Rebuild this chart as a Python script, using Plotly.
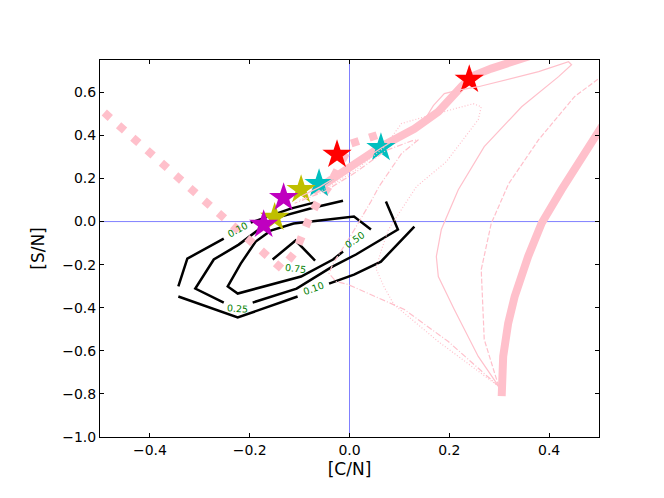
import plotly.graph_objects as go

# ---- data ----
x_ticks = [-0.4, -0.2, 0.0, 0.2, 0.4]
x_ticktext = ["\u22120.4", "\u22120.2", "0.0", "0.2", "0.4"]
y_ticks = [-1.0, -0.8, -0.6, -0.4, -0.2, 0.0, 0.2, 0.4, 0.6]
y_ticktext = ["\u22121.0", "\u22120.8", "\u22120.6", "\u22120.4", "\u22120.2", "0.0", "0.2", "0.4", "0.6"]

# solar reference lines
ref_h = [(-0.5, 0.0), (0.5, 0.0)]
ref_v = [(0.0, -1.0), (0.0, 0.75)]

# contour pieces (broken where matplotlib put the inline labels)
c010_a = [(-0.198, -0.005), (-0.118, 0.060), (-0.071, 0.088)]
c010_b = [(-0.252, -0.079), (-0.325, -0.172), (-0.343, -0.301)]
c010_c = [(-0.343, -0.348), (-0.224, -0.445), (-0.104, -0.348)]
c010_d = [(-0.041, -0.288), (0.009, -0.246), (0.063, -0.186), (0.130, -0.023)]
c025_a = [(-0.013, 0.097), (-0.071, 0.065), (-0.138, 0.023), (-0.182, -0.037), (-0.222, -0.107),
          (-0.272, -0.176), (-0.309, -0.311), (-0.252, -0.376)]
c025_b = [(-0.194, -0.376), (-0.106, -0.311), (-0.037, -0.213), (0.013, -0.153), (0.097, -0.037),
          (0.073, 0.093)]
c050 = [(0.043, -0.037), (0.009, 0.023), (-0.112, -0.009), (-0.158, -0.042), (-0.188, -0.093),
        (-0.218, -0.195), (-0.244, -0.301), (-0.224, -0.334), (-0.097, -0.255), (-0.033, -0.176),
        (-0.013, -0.139)]
c075 = [(-0.154, -0.176), (-0.108, -0.088), (-0.069, -0.181)]

# contour labels: text, x, y, angle
clabels = [("0.10", -0.224, -0.037, -28), ("0.10", -0.073, -0.311, -20),
           ("0.25", -0.224, -0.404, 4), ("0.50", 0.011, -0.083, -35),
           ("0.75", -0.108, -0.218, 6)]

# tracks
thick_a = [(-0.073, 0.139), (0.003, 0.255), (0.063, 0.348), (0.130, 0.431), (0.178, 0.510),
           (0.224, 0.626), (0.244, 0.673), (0.284, 0.710), (0.331, 0.751), (0.37, 0.775)]
thick_b = [(0.305, -0.81), (0.308, -0.626), (0.318, -0.472), (0.331, -0.348), (0.358, -0.162),
           (0.385, -0.008), (0.425, 0.148), (0.465, 0.301), (0.501, 0.441), (0.53, 0.53)]
thin_solid = [(0.299, -0.765), (0.258, -0.626), (0.210, -0.408), (0.178, -0.255), (0.174, -0.162),
              (0.184, -0.037), (0.218, 0.148), (0.270, 0.348), (0.345, 0.533), (0.419, 0.673),
              (0.445, 0.728), (0.439, 0.742), (0.379, 0.696), (0.258, 0.626), (0.214, 0.608),
              (0.190, 0.594), (0.168, 0.538), (0.150, 0.470), (0.120, 0.420), (0.063, 0.340),
              (0.0, 0.245), (-0.060, 0.160), (-0.095, 0.120)]
thin_dash = [(0.299, -0.765), (0.270, -0.547), (0.264, -0.223), (0.284, -0.009), (0.319, 0.176),
             (0.379, 0.380), (0.451, 0.580), (0.502, 0.668), (0.54, 0.70)]
thin_dot = [(0.299, -0.765), (0.178, -0.557), (0.089, -0.385), (0.069, -0.302), (0.053, -0.218),
            (0.063, -0.139), (0.078, -0.037), (0.134, 0.162), (0.194, 0.278), (0.258, 0.473),
            (0.264, 0.533), (0.248, 0.547), (0.138, 0.478), (0.104, 0.455), (0.070, 0.345),
            (0.010, 0.235), (-0.050, 0.150), (-0.100, 0.100)]
thin_dashdot = [(0.299, -0.765), (0.198, -0.557), (0.110, -0.408), (-0.003, -0.292), (-0.027, -0.278),
                (-0.041, -0.241), (-0.033, -0.195), (0.005, -0.056), (0.043, 0.093), (0.059, 0.162),
                (0.104, 0.315), (0.138, 0.380), (0.125, 0.375), (0.073, 0.330), (0.010, 0.225),
                (-0.050, 0.140), (-0.110, 0.085)]
dotted_thick = [(-0.520, 0.564), (-0.136, -0.218), (-0.108, -0.139), (-0.095, -0.060), (-0.081, 0.014),
                (-0.063, 0.093), (-0.043, 0.158), (0.003, 0.362), (0.039, 0.394), (0.059, 0.404)]

# stars
star_x = [0.240, -0.025, 0.063, -0.061, -0.097, -0.150, -0.132, -0.172]
star_y = [0.659, 0.311, 0.343, 0.176, 0.148, 0.019, 0.111, -0.014]
star_c = ["#ff0000", "#ff0000", "#00bfbf", "#00bfbf", "#bfbf00", "#bfbf00", "#bf00bf", "#bf00bf"]

PINK = "#ffc0cb"

fig = go.Figure()


def add_line(pts, color, width, dash="solid"):
    fig.add_trace(go.Scatter(x=[p[0] for p in pts], y=[p[1] for p in pts], mode="lines",
                             line=dict(color=color, width=width, dash=dash),
                             hoverinfo="skip", showlegend=False))


add_line(ref_h, "#8080ff", 1)
add_line(ref_v, "#8080ff", 1)

for seg in [c010_a, c010_b, c010_c, c010_d, c025_a, c025_b, c050, c075]:
    add_line(seg, "black", 2.5)

add_line(thick_a, PINK, 8)
add_line(thick_b, PINK, 8)
add_line(dotted_thick, PINK, 8, "8px,11px")

fig.add_trace(go.Scatter(x=star_x, y=star_y, mode="markers",
                         marker=dict(symbol="star", size=22, color=star_c, line=dict(width=0)),
                         hoverinfo="skip", showlegend=False))

add_line(thin_solid, PINK, 1.2)
add_line(thin_dash, PINK, 1.2, "5px,2px")
add_line(thin_dot, PINK, 1.2, "1px,2px")
add_line(thin_dashdot, PINK, 1.2, "6px,2px,1px,2px")

for txt, tx, ty, ang in clabels:
    fig.add_annotation(x=tx, y=ty, text=txt, showarrow=False, textangle=ang,
                       font=dict(size=9.5, color="green", family="DejaVu Sans"))

axis_common = dict(showgrid=False, zeroline=False, showline=True, linecolor="black", linewidth=1,
                   mirror="ticks", ticks="inside", ticklen=4, tickwidth=1, tickcolor="black",
                   automargin=False)
fig.update_xaxes(range=[-0.5, 0.5], tickvals=x_ticks, ticktext=x_ticktext,
                 title=dict(text="[C/N]", standoff=6), **axis_common)
fig.update_yaxes(range=[-1.0, 0.75], tickvals=y_ticks, ticktext=y_ticktext,
                 title=dict(text="[S/N]", standoff=13), **axis_common)
fig.update_layout(width=664, height=498, margin=dict(l=92, r=73, t=52, b=69),
                  plot_bgcolor="white", paper_bgcolor="white",
                  font=dict(family="DejaVu Sans", size=14, color="black"))

fig.write_html("out.html")
